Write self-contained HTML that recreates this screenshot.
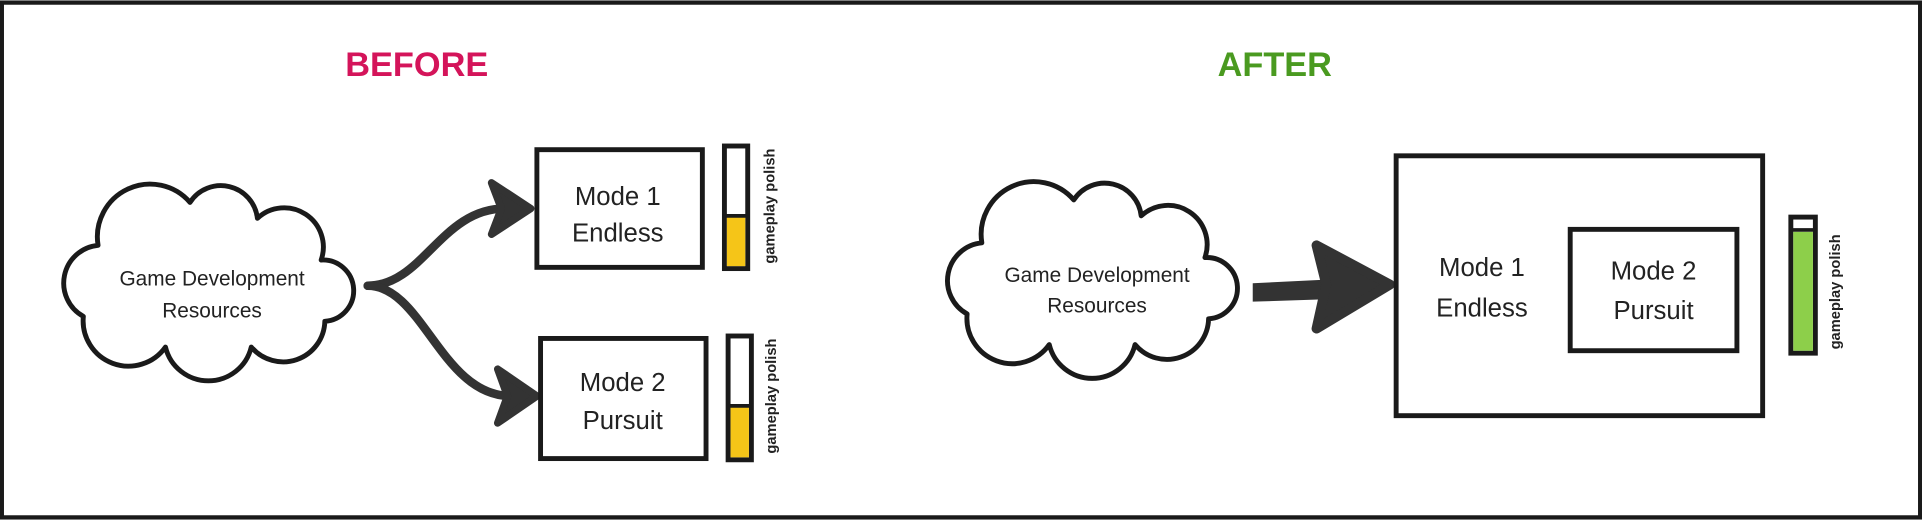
<!DOCTYPE html>
<html><head><meta charset="utf-8"><style>
html,body{margin:0;padding:0;background:#fff;width:1922px;height:520px;overflow:hidden}
svg{display:block}
text{font-family:"Liberation Sans",sans-serif;fill:#222}
</style></head><body>
<svg width="1922" height="520" viewBox="0 0 1568 424" xmlns="http://www.w3.org/2000/svg">
<rect x="1.5" y="2" width="1565" height="420" fill="#fff" stroke="#1a1a1a" stroke-width="3.5"/>
<text x="340" y="62" text-anchor="middle" font-size="28" font-weight="bold" style="fill:#d4145a">BEFORE</text>
<text x="1040" y="62" text-anchor="middle" font-size="28" font-weight="bold" style="fill:#4a9a20">AFTER</text>

<defs>
<path id="cloud" d="M68,258 A31,31 0 0 1 80,200 A43,43 0 0 1 155,165 A30,30 0 0 1 210,178 A32,32 0 0 1 262,212 A25,25 0 0 1 265,262 A34,34 0 0 1 205,283 A36,36 0 0 1 135,283 A37,37 0 0 1 68,258 Z" fill="#fff" stroke="#1a1a1a" stroke-width="4" stroke-linejoin="round"/>
</defs>
<use href="#cloud"/>
<text x="173" y="233" text-anchor="middle" font-size="17">Game Development</text>
<text x="173" y="259" text-anchor="middle" font-size="17">Resources</text>

<g fill="none" stroke="#333" stroke-width="7" stroke-linecap="round">
<path d="M300,233 C345,233 360,170 412,170"/>
<path d="M300,233 C345,233 360,323 417,323"/>
</g>
<g fill="#333" stroke="#333" stroke-width="6" stroke-linejoin="round">
<polygon points="433,170 401,149 409,170 401,191"/>
<polygon points="438,323 406,301 414,323 406,345"/>
</g>

<rect x="438" y="122" width="135" height="96" fill="#fff" stroke="#1a1a1a" stroke-width="4"/>
<text x="504" y="167" text-anchor="middle" font-size="21">Mode 1</text>
<text x="504" y="197" text-anchor="middle" font-size="21">Endless</text>
<rect x="591" y="119" width="19" height="100" fill="#fff" stroke="#1a1a1a" stroke-width="4"/>
<rect x="593" y="177" width="15" height="40" fill="#f5c518"/>
<line x1="591" y1="176" x2="610" y2="176" stroke="#1a1a1a" stroke-width="3"/>
<text transform="translate(632,168) rotate(-90)" text-anchor="middle" font-size="12" font-weight="bold">gameplay polish</text>

<rect x="441" y="276" width="135" height="98" fill="#fff" stroke="#1a1a1a" stroke-width="4"/>
<text x="508" y="319" text-anchor="middle" font-size="21">Mode 2</text>
<text x="508" y="350" text-anchor="middle" font-size="21">Pursuit</text>
<rect x="594" y="274" width="19" height="101" fill="#fff" stroke="#1a1a1a" stroke-width="4"/>
<rect x="596" y="332" width="15" height="41" fill="#f5c518"/>
<line x1="594" y1="331" x2="613" y2="331" stroke="#1a1a1a" stroke-width="3"/>
<text transform="translate(633,323) rotate(-90)" text-anchor="middle" font-size="12" font-weight="bold">gameplay polish</text>

<use href="#cloud" transform="translate(721,-2)"/>
<text x="895" y="230" text-anchor="middle" font-size="17">Game Development</text>
<text x="895" y="255" text-anchor="middle" font-size="17">Resources</text>

<polygon points="1022,231 1082,228 1082,244 1022,246" fill="#333"/>
<polygon points="1134,232 1074,200 1082,232 1074,268" fill="#333" stroke="#333" stroke-width="8" stroke-linejoin="round"/>

<rect x="1139" y="127" width="299" height="212" fill="none" stroke="#1a1a1a" stroke-width="4"/>
<text x="1209" y="225" text-anchor="middle" font-size="21">Mode 1</text>
<text x="1209" y="258" text-anchor="middle" font-size="21">Endless</text>
<rect x="1281" y="187" width="136" height="99" fill="#fff" stroke="#1a1a1a" stroke-width="4"/>
<text x="1349" y="228" text-anchor="middle" font-size="21">Mode 2</text>
<text x="1349" y="260" text-anchor="middle" font-size="21">Pursuit</text>

<rect x="1461" y="177" width="20" height="111" fill="#fff" stroke="#1a1a1a" stroke-width="4"/>
<rect x="1463" y="189" width="16" height="97" fill="#8dcf4a"/>
<line x1="1461" y1="187.5" x2="1481" y2="187.5" stroke="#1a1a1a" stroke-width="3"/>
<text transform="translate(1501,238) rotate(-90)" text-anchor="middle" font-size="12" font-weight="bold">gameplay polish</text>
</svg>
</body></html>
